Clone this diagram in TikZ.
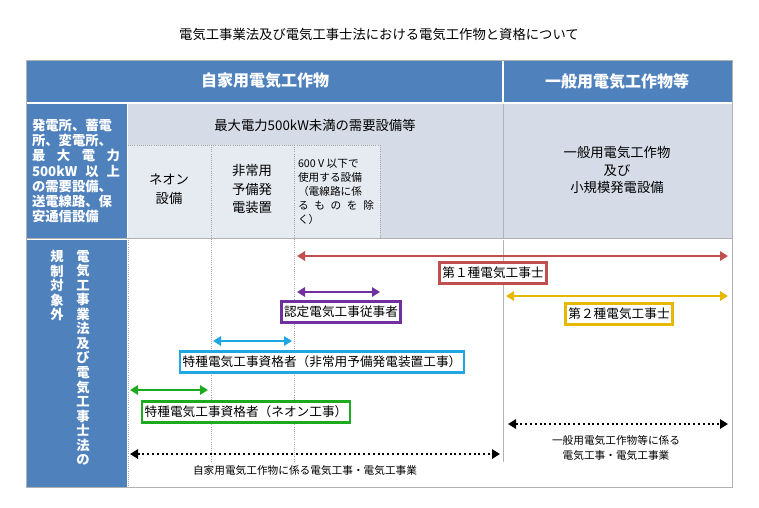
\documentclass[tikz,border=0pt]{standalone}
\usepackage{fontspec}
\setmainfont{Noto Sans CJK JP}
\usetikzlibrary{arrows.meta}
\definecolor{hb}{HTML}{4F81BD}
\definecolor{lb}{HTML}{D5DBE7}
\definecolor{vb}{HTML}{E6EAF1}
\definecolor{cr}{HTML}{C0504D}
\definecolor{cp}{HTML}{7030A0}
\definecolor{cy}{HTML}{E6B800}
\definecolor{cb}{HTML}{1FA7E1}
\definecolor{cg}{HTML}{1EAA1E}
\newcommand{\jl}[1]{\makebox[66pt][s]{#1}}
\tikzset{
 lab/.style={draw=#1,line width=1.8pt,fill=white,inner sep=2pt,font=\fontsize{9.5}{11}\selectfont,minimum height=16pt},
 arr/.style={draw=#1,line width=1.6pt,{Triangle[length=6pt,width=7pt]}-{Triangle[length=6pt,width=7pt]}},
 darr/.style={draw=black,line width=1.6pt,dotted,{Triangle[length=6pt,width=7pt]}-{Triangle[length=6pt,width=7pt]}},
 sep/.style={draw=gray!70,densely dotted,line width=0.6pt},
 txt/.style={font=\fontsize{9.5}{12}\selectfont,align=center},
 vert/.style={white,font=\bfseries\fontsize{10}{10.9}\selectfont,text width=10pt,align=center,inner sep=0pt,anchor=north},
}
\begin{document}
\begin{tikzpicture}[x=0.75pt,y=-0.75pt]
\useasboundingbox (0,0) rectangle (759,507);
\fill[white] (0,0) rectangle (759,507);
\node[font=\fontsize{10}{12}\selectfont] (title) at (379,34) {電気工事業法及び電気工事士法における電気工作物と資格について};
% header
\fill[hb] (26,60) rectangle (732,102);
\draw[white,line width=1pt] (503,60) -- (503,102);
\node[white,font=\bfseries\fontsize{12}{14}\selectfont] (h1) at (265,81) {自家用電気工作物};
\node[white,font=\bfseries\fontsize{12}{14}\selectfont] (h2) at (617,81) {一般用電気工作物等};
% row 2
\fill[lb] (128,104) rectangle (732,238);
\fill[vb] (128,145) rectangle (380,238);
\fill[hb] (26,104) rectangle (127,238);
\fill[hb] (26,240) rectangle (127,487);
\draw[gray!60,line width=0.6pt] (503,104) -- (503,238);
\draw[gray!60,line width=0.8pt] (26,238.5) -- (732,238.5);
\draw[gray!60,line width=0.6pt] (503,240) -- (503,462);
\draw[gray!60] (26,60) rectangle (732,487);
\draw[sep] (128,145) -- (380,145);
\draw[sep] (211,145) -- (211,462);
\draw[sep] (294,145) -- (294,462);
\draw[sep] (380,145) -- (380,238);
\draw[sep] (128,238) -- (128,487);
\node[white,font=\bfseries\fontsize{10}{11.3}\selectfont,align=left,inner sep=0pt] (lc) at (76,171) {\jl{発電所、蓄電}\\\jl{所、変電所、}\\\jl{最 大 電 力}\\\jl{500kW 以 上}\\\jl{の需要設備、}\\\jl{送電線路、保}\\安通信設備};
\node[txt,font=\fontsize{10}{12}\selectfont] (t1) at (315,125) {最大電力500kW未満の需要設備等};
\node[txt,font=\fontsize{10}{14}\selectfont] (t2) at (169,189) {ネオン\\設備};
\node[txt,font=\fontsize{10}{14}\selectfont] (t3) at (252,189) {非常用\\予備発\\電装置};
\node[align=left,font=\fontsize{8}{10.6}\selectfont,inner sep=0pt] (t4) at (336,192) {600 V 以下で\\使用する設備\\（電線路に係\\\makebox[57pt][s]{る も の を 除}\\く）};
\node[txt,font=\fontsize{10}{13}\selectfont] (t5) at (617,170) {一般用電気工作物\\及び\\小規模発電設備};
% vertical text
\node[vert] (v1) at (83,250) {電\\気\\工\\事\\業\\法\\及\\び\\電\\気\\工\\事\\士\\法\\の};
\node[vert] (v2) at (57,250) {規\\制\\対\\象\\外};
% arrows
\coordinate (a1) at (297,256); \coordinate (b1) at (728,256);
\draw[arr=cr] (a1) -- (b1);
\node[lab=cr] (l1) at (493,273) {第１種電気工事士};
\coordinate (a2) at (297,292); \coordinate (b2) at (380,292);
\draw[arr=cp] (a2) -- (b2);
\node[lab=cp] (l2) at (341,312) {認定電気工事従事者};
\coordinate (a3) at (506,296); \coordinate (b3) at (728,296);
\draw[arr=cy] (a3) -- (b3);
\node[lab=cy] (l3) at (619,314) {第２種電気工事士};
\coordinate (a4) at (213,341); \coordinate (b4) at (292,341);
\draw[arr=cb] (a4) -- (b4);
\node[lab=cb] (l4) at (322,362) {特種電気工事資格者（非常用予備発電装置工事）};
\coordinate (a5) at (130,390); \coordinate (b5) at (208,390);
\draw[arr=cg] (a5) -- (b5);
\node[lab=cg] (l5) at (246,412) {特種電気工事資格者（ネオン工事）};
\coordinate (a6) at (130,454); \coordinate (b6) at (500,454);
\draw[darr] (a6) -- (b6);
\node[font=\fontsize{8}{10}\selectfont] (l6) at (305,470) {自家用電気工作物に係る電気工事・電気工事業};
\coordinate (a7) at (508,424); \coordinate (b7) at (728,424);
\draw[darr] (a7) -- (b7);
\node[font=\fontsize{8}{11}\selectfont,align=center] (l7) at (616,448) {一般用電気工作物等に係る\\電気工事・電気工事業};
\end{tikzpicture}
\end{document}
